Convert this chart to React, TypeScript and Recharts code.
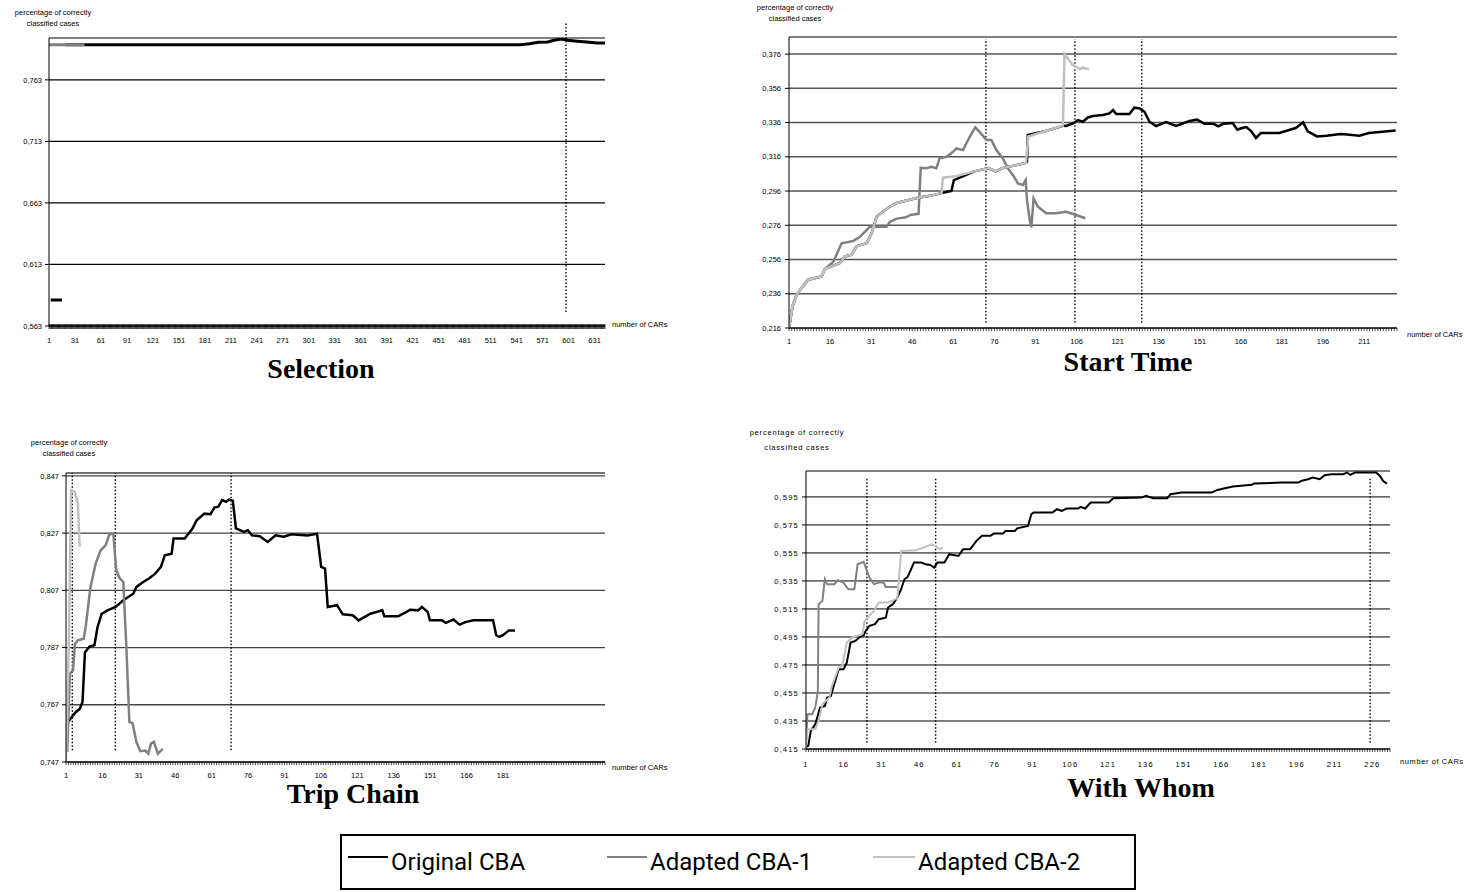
import React from 'react';
import {LineChart, Line, XAxis, YAxis, CartesianGrid, ReferenceLine} from 'recharts';

type Pt = [number, number | null];

const AXIS_FONT = "'Liberation Sans', Arial, sans-serif";
const TITLE_FONT = "'Liberation Serif', 'Times New Roman', serif";
const BLACK = '#000000';
const DARK = '#808080';
const LIGHT = '#c0c0c0';

// ---- Selection ----
const selectionXLabels = [1, 31, 61, 91, 121, 151, 181, 211, 241, 271, 301, 331, 361, 391, 421, 451, 481, 511, 541, 571, 601, 631];
const selectionYTicks = [0.563, 0.613, 0.663, 0.713, 0.763];
const selectionOriginal: Pt[] = [
    [3, 0.5842], [16, 0.5842], [17, null], [20, 0.7916], [545, 0.7916], [556, 0.7924], [566, 0.7935],
    [577, 0.7937], [584, 0.7951], [593, 0.7962], [600, 0.7951], [611, 0.7943], [625, 0.7935], [634, 0.793], [643, 0.793],
];
const selectionAdapted1: Pt[] = [[1, 0.7916], [42, 0.7916]];
const selectionMarks = [598];

// ---- Start Time ----
const startXLabels = [1, 16, 31, 46, 61, 76, 91, 106, 121, 136, 151, 166, 181, 196, 211];
const startYTicks = [0.216, 0.236, 0.256, 0.276, 0.296, 0.316, 0.336, 0.356, 0.376];
const startOriginal: Pt[] = [
    [1, 0.216], [2.3, 0.2286], [3.8, 0.2354], [5.6, 0.2393], [8, 0.2442], [12.9, 0.2461], [14.1, 0.2504],
    [17.2, 0.2524], [19.6, 0.254], [21.4, 0.2578], [23.9, 0.2588], [25.7, 0.2637], [29.4, 0.2656], [31.2, 0.2715],
    [33, 0.2812], [35.4, 0.2841], [37.9, 0.287], [40.3, 0.289], [47.6, 0.2919], [52.5, 0.2932], [56.7, 0.2948],
    [60.3, 0.296], [61.2, 0.3024], [68.7, 0.3075], [73.8, 0.3094], [76.4, 0.3075], [79, 0.3094], [87.5, 0.3124],
    [87.9, 0.3131], [88.2, 0.3287], [94.4, 0.3309], [101.3, 0.3342], [102.2, 0.334], [104.7, 0.3355], [106.5, 0.3375],
    [108.3, 0.3365], [110.1, 0.339], [112, 0.3398], [115.6, 0.3404], [118, 0.3414], [119.3, 0.3433], [120.5, 0.341],
    [125.3, 0.341], [127.1, 0.3447], [129, 0.3443], [130.8, 0.3423], [132.6, 0.3365], [135, 0.334], [138.7, 0.3363],
    [142.3, 0.334], [147.2, 0.3369], [150, 0.3377], [152.7, 0.3353], [156, 0.3353], [157.8, 0.3338], [159.5, 0.3353],
    [163, 0.3357], [164.7, 0.3318], [166.4, 0.3328], [168, 0.3334], [169.8, 0.3309], [171.5, 0.327], [173.3, 0.3299],
    [180, 0.3299], [182.7, 0.3312], [186, 0.3328], [188.7, 0.3361], [190.4, 0.3309], [193.8, 0.3279], [197.3, 0.3283],
    [202.4, 0.3293], [205.8, 0.3289], [209.3, 0.3283], [212.7, 0.3299], [222.5, 0.3314],
];
const startAdapted1: Pt[] = [
    [1, 0.216], [2.3, 0.2286], [3.8, 0.2354], [5.6, 0.2393], [8, 0.2442], [12.9, 0.2461], [14.1, 0.2504],
    [17.2, 0.2547], [20.2, 0.2655], [24.4, 0.2668], [26.9, 0.2693], [30.5, 0.2751], [36.6, 0.2751], [37.8, 0.2779],
    [40.3, 0.2799], [43.3, 0.2805], [45.7, 0.2822], [48.3, 0.2827], [49.1, 0.3096], [51.2, 0.3093], [53, 0.3102],
    [54.8, 0.3093], [56, 0.3151], [58.5, 0.316], [60.9, 0.3189], [62.1, 0.3209], [64.5, 0.3199], [67, 0.3277],
    [69, 0.3332], [70.6, 0.3306], [73.1, 0.3258], [74.9, 0.3258], [76.7, 0.3199], [79.1, 0.3151], [80.9, 0.3093],
    [82.8, 0.3053], [84.6, 0.3005], [86.4, 0.2995], [87.4, 0.3024], [87.9, 0.2907], [88.9, 0.2791], [89.5, 0.2748],
    [90.3, 0.2917], [91.9, 0.2868], [94.9, 0.283], [98.6, 0.283], [102.2, 0.2839], [105.9, 0.282], [109.2, 0.2801],
];
const startAdapted2: Pt[] = [
    [1, 0.216], [2.3, 0.2286], [3.8, 0.2354], [5.6, 0.2393], [8, 0.2442], [12.9, 0.2461], [14.1, 0.2504],
    [17.2, 0.2524], [19.6, 0.254], [21.4, 0.2578], [23.9, 0.2588], [25.7, 0.2637], [29.4, 0.2656], [31.2, 0.2715],
    [33, 0.2812], [35.4, 0.2841], [37.9, 0.287], [40.3, 0.289], [47.6, 0.2919], [52.5, 0.2932], [56.7, 0.2948],
    [57.2, 0.3038], [61.8, 0.3046], [68.7, 0.3075], [73.8, 0.3094], [76.4, 0.3075], [79, 0.3094], [87.5, 0.3124],
    [88.4, 0.3279], [94.4, 0.3309], [101, 0.3342], [101.6, 0.376], [104.6, 0.3696], [105.9, 0.3686], [107.1, 0.3671],
    [108.3, 0.3682], [110.5, 0.3671],
];
const startMarks = [72.9, 105.4, 129.8];

// ---- Trip Chain ----
const tripXLabels = [1, 16, 31, 46, 61, 76, 91, 106, 121, 136, 151, 166, 181];
const tripYTicks = [0.747, 0.767, 0.787, 0.807, 0.827, 0.847];
const tripOriginal: Pt[] = [
    [1.8, 0.761], [3.4, 0.7627], [5.1, 0.7645], [6.7, 0.7656], [7.8, 0.768], [8.8, 0.7854], [10.8, 0.7874],
    [12.7, 0.7878], [14, 0.7942], [15.7, 0.7988], [18.1, 0.8], [21.4, 0.8012], [24.6, 0.8035], [28.7, 0.8058],
    [30, 0.8082], [32.8, 0.8099], [35.2, 0.8111], [37.7, 0.8128], [40.1, 0.8152], [41.7, 0.8192], [44.5, 0.8198],
    [45.3, 0.8251], [49.9, 0.8251], [53.1, 0.8286], [54.8, 0.8315], [58, 0.8338], [60.5, 0.8336], [62.1, 0.8359],
    [63.7, 0.8362], [65.3, 0.8385], [67, 0.8379], [68.1, 0.8387], [69.7, 0.8383], [71, 0.8286], [74.3, 0.8274],
    [75.9, 0.828], [77.6, 0.8262], [80.8, 0.8259], [84.1, 0.8239], [87.3, 0.8262], [90.6, 0.8257], [93.9, 0.8266],
    [100.4, 0.8262], [104.4, 0.8268], [106.1, 0.8152], [107.7, 0.8146], [108.8, 0.8012], [112.6, 0.8018],
    [115, 0.7986], [119.1, 0.7983], [121.5, 0.7965], [126.4, 0.7988], [131.3, 0.8], [132.1, 0.7979], [137.8, 0.7979],
    [141.1, 0.7994], [142.7, 0.8002], [146, 0.8], [147.6, 0.8012], [150, 0.7994], [150.9, 0.7965], [155.8, 0.7965],
    [157.4, 0.7956], [160.6, 0.7968], [163.1, 0.795], [165.5, 0.7959], [168.8, 0.7965], [176.9, 0.7965],
    [178.2, 0.7913], [179.4, 0.7907], [181, 0.7913], [183.4, 0.793], [185.9, 0.793],
];
const tripAdapted1: Pt[] = [
    [1.5, 0.7505], [2.6, 0.7779], [3.9, 0.779], [4.7, 0.7883], [5.9, 0.7895], [8.3, 0.7901], [9.1, 0.7942],
    [11.1, 0.8082], [13.2, 0.8163], [15.3, 0.821], [17.3, 0.8227], [18.9, 0.8266], [20.5, 0.8268], [21.7, 0.814],
    [23, 0.8114], [24.6, 0.8099], [25.8, 0.7883], [27.1, 0.761], [28.4, 0.7606], [30, 0.754], [31.6, 0.7508],
    [33.6, 0.751], [34.9, 0.7499], [36, 0.7534], [37.2, 0.754], [38.8, 0.7499], [40.9, 0.7516],
];
const tripAdapted2: Pt[] = [[1, 0.747], [2.2, 0.79], [3.1, 0.842], [4.6, 0.8414], [5.9, 0.8373], [6.6, 0.8222]];
const tripMarks = [3.6, 21.3, 69];

// ---- With Whom ----
const whomXLabels = [1, 16, 31, 46, 61, 76, 91, 106, 121, 136, 151, 166, 181, 196, 211, 226];
const whomYTicks = [0.415, 0.435, 0.455, 0.475, 0.495, 0.515, 0.535, 0.555, 0.575, 0.595];
const whomOriginal: Pt[] = [
    [1, 0.4165], [1.9, 0.4172], [2.9, 0.4279], [4.7, 0.4327], [6.6, 0.4446], [8.5, 0.4458], [9.4, 0.4517],
    [10.9, 0.4529], [12.2, 0.4612], [14, 0.4719], [15.9, 0.4719], [17.2, 0.4767], [18.7, 0.491], [20.6, 0.4922],
    [22.1, 0.4946], [23.9, 0.4962], [24.7, 0.4993], [26.2, 0.5029], [28.4, 0.5041], [29.9, 0.5077], [32.7, 0.5088],
    [33.6, 0.516], [35.5, 0.5184], [37.3, 0.5231], [38.8, 0.5291], [40.1, 0.5362], [41.4, 0.5379], [43.9, 0.5481],
    [46.7, 0.5481], [48.5, 0.5469], [50.4, 0.5464], [51.9, 0.5445], [53.2, 0.5481], [56, 0.5481], [57.9, 0.5541],
    [61.6, 0.5529], [63.4, 0.5576], [66.2, 0.5576], [68.7, 0.5636], [70.9, 0.5672], [74.3, 0.5672], [75.6, 0.5688],
    [79.3, 0.5688], [80.2, 0.5707], [84, 0.5707], [84.9, 0.5726], [89.2, 0.5743], [90.5, 0.5826], [91.4, 0.5838],
    [98.9, 0.5838], [100.7, 0.5862], [102.6, 0.585], [104.5, 0.5867], [109.1, 0.5867], [110, 0.5879], [111.9, 0.5867],
    [114.1, 0.591], [121.2, 0.591], [123.1, 0.594], [134.3, 0.5945], [136.1, 0.5957], [138.9, 0.594], [144.5, 0.594],
    [145.8, 0.5969], [150.1, 0.5981], [162.2, 0.5981], [164.1, 0.5998], [166.9, 0.601], [170.6, 0.6024],
    [178.1, 0.6036], [179, 0.6045], [190.2, 0.6052], [196.7, 0.6052], [197.7, 0.6064], [200.4, 0.6076],
    [202.3, 0.6088], [205.1, 0.6076], [207, 0.6105], [209.8, 0.6112], [214.4, 0.6112], [215.9, 0.6124],
    [217.2, 0.6107], [219.1, 0.6124], [227.5, 0.6124], [229, 0.61], [230.3, 0.6064], [231.8, 0.6045],
];
const whomAdapted1: Pt[] = [
    [1, 0.4208], [1.6, 0.4398], [3.4, 0.4398], [4.7, 0.4446], [5.7, 0.4565], [6, 0.5184], [7.5, 0.5207],
    [8.5, 0.5362], [9.4, 0.5327], [12.2, 0.5327], [13.7, 0.5355], [15.9, 0.5338], [17.8, 0.529], [20.2, 0.529],
    [21.5, 0.5469], [23.9, 0.5486], [26.2, 0.5374], [28, 0.5327], [29.9, 0.5338], [31.8, 0.5338], [32.7, 0.5307],
    [37.3, 0.5307],
];
const whomAdapted2: Pt[] = [
    [1, 0.4165], [1.6, 0.4291], [4.7, 0.4291], [6, 0.435], [7.5, 0.447], [10.3, 0.4517], [11.3, 0.46], [14, 0.4731],
    [15.4, 0.4743], [17.2, 0.491], [19.6, 0.495], [23.4, 0.4969], [24.3, 0.5065], [28, 0.5136], [29.9, 0.5196],
    [33.6, 0.5196], [37.3, 0.5226], [38.8, 0.5564], [44.8, 0.5569], [47.6, 0.5588], [50.8, 0.5612], [52.3, 0.56],
    [54.1, 0.5576], [55.4, 0.5588],
];
const whomMarks = [25.2, 52.5, 225.1];

const legendNames = ['Original CBA', 'Adapted CBA-1', 'Adapted CBA-2'];

interface SeriesDef {
    name: string;
    points: Pt[];
    color: string;
    width: number;
}

interface PanelConfig {
    plot: {x: number; y: number; w: number; h: number};
    xMax: number;
    xLabels: number[];
    yDomain: [number, number];
    yTicks: number[];
    series: SeriesDef[];
    marks: number[];
    markRange: [number, number];
    gridColor: string;
    gridWidth: number;
    crossTicks: boolean;
    tickGap: number;
    labelDy: number;
    spacing: number;
}

const toRows = (pts: Pt[]) => pts.map(([x, y]) => ({x, y}));
const fmt = (v: number) => v.toFixed(3).replace('.', ',');

function XTick(props: any) {
    const {x, y, payload, labels, cross, labelDy, spacing} = props;
    const v = payload.value;
    return (
        <g>
            <line x1={x} x2={x} y1={cross ? y - 2 : y} y2={y + 3} stroke="#000" strokeWidth={0.7}/>
            {labels.includes(v) && (
                <text x={x} y={y + labelDy} textAnchor="middle" fontSize={7.5} fontFamily={AXIS_FONT}
                      letterSpacing={spacing} fill="#000">{v}</text>
            )}
        </g>
    );
}

function Panel({cfg}: {cfg: PanelConfig}) {
    const {plot} = cfg;
    const width = plot.w + 60 + 20;
    const height = plot.h + 30 + 30;
    const tickValues = Array.from({length: cfg.xMax}, (_, i) => i + 1);
    return (
        <div style={{position: 'absolute', left: plot.x - 60, top: plot.y - 30}}>
            <LineChart width={width} height={height} margin={{top: 30, right: 20, bottom: 0, left: 0}}>
                <CartesianGrid vertical={false} stroke={cfg.gridColor} strokeWidth={cfg.gridWidth}/>
                <XAxis type="number" dataKey="x" domain={[1, cfg.xMax]} ticks={tickValues} interval={0}
                       height={30} tickSize={0} tickMargin={0} tickLine={false} allowDataOverflow
                       axisLine={{stroke: '#000', strokeWidth: 1}}
                       tick={(p: any) => (
                           <XTick key={p.index} {...p} labels={cfg.xLabels} cross={cfg.crossTicks}
                                  labelDy={cfg.labelDy} spacing={cfg.spacing}/>
                       )}/>
                <YAxis type="number" domain={cfg.yDomain} ticks={cfg.yTicks} interval={0} width={60}
                       tickSize={4} tickMargin={cfg.tickGap} allowDataOverflow
                       tickLine={{stroke: '#000'}} axisLine={{stroke: '#000'}}
                       tick={{fontSize: 7.5, fill: '#000', fontFamily: AXIS_FONT, letterSpacing: cfg.spacing}}
                       tickFormatter={fmt}/>
                {cfg.marks.map(m => (
                    <ReferenceLine key={m} segment={[{x: m, y: cfg.markRange[0]}, {x: m, y: cfg.markRange[1]}]}
                                   stroke="#000" strokeWidth={1.4} strokeDasharray="1.5 2" ifOverflow="visible"/>
                ))}
                {cfg.series.map(s => (
                    <Line key={s.name} data={toRows(s.points)} dataKey="y" name={s.name} type="linear"
                          stroke={s.color} strokeWidth={s.width} dot={false} activeDot={false}
                          connectNulls={false} isAnimationActive={false}/>
                ))}
            </LineChart>
        </div>
    );
}

const panels: PanelConfig[] = [
    {
        plot: {x: 49, y: 38, w: 556, h: 288}, xMax: 643, xLabels: selectionXLabels,
        yDomain: [0.563, 0.797], yTicks: selectionYTicks,
        series: [
            {name: legendNames[0], points: selectionOriginal, color: BLACK, width: 3},
            {name: legendNames[1], points: selectionAdapted1, color: DARK, width: 3},
        ],
        marks: selectionMarks, markRange: [0.5744, 0.8092], gridColor: '#000', gridWidth: 1.2,
        crossTicks: true, tickGap: 3, labelDy: 17, spacing: 0,
    },
    {
        plot: {x: 789, y: 37, w: 608, h: 291}, xMax: 223, xLabels: startXLabels,
        yDomain: [0.216, 0.386], yTicks: startYTicks,
        series: [
            {name: legendNames[0], points: startOriginal, color: BLACK, width: 2.5},
            {name: legendNames[1], points: startAdapted1, color: DARK, width: 2.5},
            {name: legendNames[2], points: startAdapted2, color: LIGHT, width: 2.5},
        ],
        marks: startMarks, markRange: [0.219, 0.3848], gridColor: '#555', gridWidth: 1.5,
        crossTicks: false, tickGap: 4, labelDy: 16, spacing: 0,
    },
    {
        plot: {x: 66, y: 473, w: 539, h: 289}, xMax: 223, xLabels: tripXLabels,
        yDomain: [0.747, 0.848], yTicks: tripYTicks,
        series: [
            {name: legendNames[0], points: tripOriginal, color: BLACK, width: 2.5},
            {name: legendNames[1], points: tripAdapted1, color: DARK, width: 2.5},
            {name: legendNames[2], points: tripAdapted2, color: LIGHT, width: 2.5},
        ],
        marks: tripMarks, markRange: [0.7511, 0.848], gridColor: '#444', gridWidth: 1.3,
        crossTicks: false, tickGap: 3, labelDy: 16, spacing: 0,
    },
    {
        plot: {x: 806, y: 471, w: 584, h: 278}, xMax: 233, xLabels: whomXLabels,
        yDomain: [0.415, 0.6135], yTicks: whomYTicks,
        series: [
            {name: legendNames[0], points: whomOriginal, color: BLACK, width: 2},
            {name: legendNames[1], points: whomAdapted1, color: DARK, width: 2},
            {name: legendNames[2], points: whomAdapted2, color: LIGHT, width: 2},
        ],
        marks: whomMarks, markRange: [0.4195, 0.6085], gridColor: '#000', gridWidth: 1,
        crossTicks: false, tickGap: 3, labelDy: 18, spacing: 1.2,
    },
];

function Text({x, y, children, size = 7.5, font = AXIS_FONT, bold = false, spacing = 0, align = 'center'}: any) {
    return (
        <div style={{
            position: 'absolute', left: x, top: y, fontSize: size, fontFamily: font,
            fontWeight: bold ? 700 : 400, letterSpacing: spacing, whiteSpace: 'nowrap', lineHeight: 1,
            transform: align === 'center' ? 'translate(-50%, -50%)' : 'translate(0, -50%)', color: '#000',
        }}>{children}</div>
    );
}

const captions = [
    {x: 53, y: 13, lines: ['percentage of correctly', 'classified cases'], gap: 11, spacing: 0},
    {x: 795, y: 8, lines: ['percentage of correctly', 'classified cases'], gap: 11, spacing: 0},
    {x: 69, y: 443, lines: ['percentage of correctly', 'classified cases'], gap: 11, spacing: 0},
    {x: 797, y: 433, lines: ['percentage of correctly', 'classified cases'], gap: 15, spacing: 0.8},
];
const axisNames = [
    {x: 612, y: 325, spacing: 0}, {x: 1407, y: 335, spacing: 0},
    {x: 612, y: 768, spacing: 0}, {x: 1400, y: 762, spacing: 0.6},
];
const titles = [
    {x: 321, y: 369, text: 'Selection'}, {x: 1128, y: 362, text: 'Start Time'},
    {x: 353, y: 794, text: 'Trip Chain'}, {x: 1141, y: 788, text: 'With Whom'},
];
const legendItems = [
    {lineX: 348, textX: 391, color: BLACK, width: 2},
    {lineX: 607, textX: 650, color: DARK, width: 2},
    {lineX: 873, textX: 918, color: LIGHT, width: 2},
];

export default function App() {
    return (
        <div style={{position: 'absolute', left: 0, top: 0, width: 1477, height: 892, background: '#fff', overflow: 'hidden'}}>
            {panels.map((p, i) => <Panel key={i} cfg={p}/>)}
            {captions.map((c, i) => (
                <React.Fragment key={i}>
                    <Text x={c.x} y={c.y} spacing={c.spacing}>{c.lines[0]}</Text>
                    <Text x={c.x} y={c.y + c.gap} spacing={c.spacing}>{c.lines[1]}</Text>
                </React.Fragment>
            ))}
            {axisNames.map((a, i) => (
                <Text key={i} x={a.x} y={a.y} spacing={a.spacing} align="left">number of CARs</Text>
            ))}
            {titles.map(t => (
                <Text key={t.text} x={t.x} y={t.y} size={28} font={TITLE_FONT} bold>{t.text}</Text>
            ))}
            <div style={{position: 'absolute', left: 340, top: 834, width: 792, height: 52, border: '2px solid #000'}}/>
            <svg width={1477} height={892} style={{position: 'absolute', left: 0, top: 0, pointerEvents: 'none'}}>
                {legendItems.map((l, i) => (
                    <line key={i} x1={l.lineX} x2={l.textX - 3} y1={857} y2={857} stroke={l.color} strokeWidth={l.width}/>
                ))}
            </svg>
            {legendItems.map((l, i) => (
                <div key={i} style={{
                    position: 'absolute', left: l.textX, top: 850, fontSize: 24, lineHeight: '24px',
                    fontFamily: "Roboto, 'Liberation Sans', sans-serif", whiteSpace: 'nowrap', color: '#000',
                }}>{legendNames[i]}</div>
            ))}
        </div>
    );
}
